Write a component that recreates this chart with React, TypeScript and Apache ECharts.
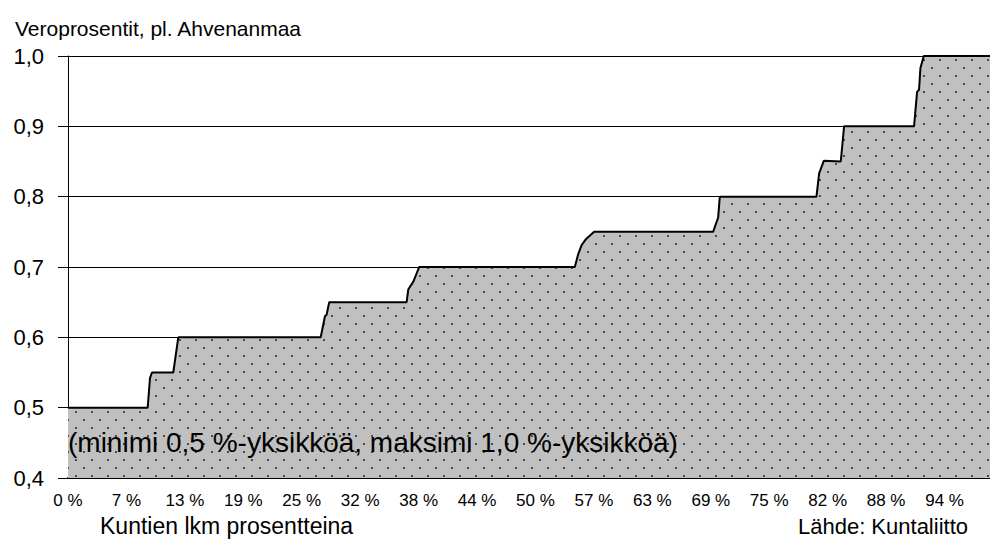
import React, { useEffect, useRef } from "react";
import * as echarts from "echarts";

// Share of municipalities (%, x) and municipal tax rate range width (%-units, y), step curve points
const SHARE_PCT = [0, 8.59, 8.84, 9.05, 11.35, 11.89, 27.24, 27.7, 27.88, 28.16, 36.51, 36.68, 37.22, 37.86, 54.64, 55.0, 55.37, 55.8, 56.72, 69.55, 69.92, 70.09, 70.27, 80.69, 80.98, 81.48, 83.31, 83.67, 91.21, 91.54, 91.75, 91.9, 92.26, 99.4];
const RATE = [0.5, 0.5, 0.542, 0.55, 0.55, 0.6, 0.6, 0.63, 0.632, 0.65, 0.65, 0.668, 0.679, 0.7, 0.7, 0.718, 0.731, 0.739, 0.75, 0.75, 0.764, 0.77, 0.8, 0.8, 0.833, 0.851, 0.85, 0.9, 0.9, 0.949, 0.952, 0.983, 1.0, 1.0];
const X_TICK_LABELS = ["0 %", "7 %", "13 %", "19 %", "25 %", "32 %", "38 %", "44 %", "50 %", "57 %", "63 %", "69 %", "75 %", "82 %", "88 %", "94 %"];
const X_STEP = 6.3;
const X_MAX = 99.4;
const Y_MIN = 0.4;
const Y_MAX = 1.0;

const TITLE = "Veroprosentit, pl. Ahvenanmaa";
const NOTE = "(minimi 0,5 %-yksikköä, maksimi 1,0 %-yksikköä)";
const X_NAME = "Kuntien lkm prosentteina";
const SOURCE = "Lähde: Kuntaliitto";

const FONT = "'Liberation Sans', Arial, sans-serif";

function makePattern(): HTMLCanvasElement {
  const c = document.createElement("canvas");
  c.width = 16;
  c.height = 16;
  const ctx = c.getContext("2d")!;
  ctx.fillStyle = "#c0c0c0";
  ctx.fillRect(0, 0, 16, 16);
  ctx.fillStyle = "#333333";
  ctx.beginPath();
  ctx.arc(4, 4, 1.1, 0, Math.PI * 2);
  ctx.arc(12, 12, 1.1, 0, Math.PI * 2);
  ctx.fill();
  return c;
}

export default function App() {
  const ref = useRef<HTMLDivElement>(null);
  useEffect(() => {
    if (!ref.current) return;
    const chart = echarts.init(ref.current, undefined, { renderer: "svg" });
    const pattern = makePattern();
    const data = SHARE_PCT.map((x, i) => [x, RATE[i]]);
    chart.setOption({
      animation: false,
      backgroundColor: "#ffffff",
      textStyle: { fontFamily: FONT },
      grid: { left: 68, right: 0, top: 56, bottom: 62, containLabel: false },
      xAxis: {
        type: "value",
        min: 0,
        max: X_MAX,
        interval: X_STEP,
        axisLine: { show: true, onZero: false, lineStyle: { color: "#000", width: 2 } },
        axisTick: { show: false },
        splitLine: { show: false },
        axisLabel: {
          color: "#000",
          fontSize: 17,
          fontFamily: FONT,
          margin: 14,
          showMaxLabel: false,
          formatter: (v: number) => {
            const i = Math.round(v / X_STEP);
            if (Math.abs(v - i * X_STEP) > 0.01) return "";
            return X_TICK_LABELS[i] ?? "";
          },
        },
      },
      yAxis: {
        type: "value",
        min: Y_MIN,
        max: Y_MAX,
        interval: 0.1,
        axisLine: { show: true, lineStyle: { color: "#000", width: 1 } },
        axisTick: { show: true, length: 10, lineStyle: { color: "#000" } },
        splitLine: { show: true, lineStyle: { color: "#000", width: 1 } },
        axisLabel: {
          color: "#000",
          fontSize: 22,
          fontFamily: FONT,
          margin: 24,
          formatter: (v: number) => v.toFixed(1).replace(".", ","),
        },
      },
      series: [
        {
          type: "line",
          data,
          symbol: "none",
          lineStyle: { color: "#000", width: 2 },
          areaStyle: {
            origin: "start",
            opacity: 1,
            color: { image: pattern, repeat: "repeat", imageWidth: 16, imageHeight: 16 } as any,
          },
          z: 3,
        },
      ],
      graphic: [
        {
          type: "text",
          x: 15,
          y: 28,
          style: { text: TITLE, fontSize: 21, fontFamily: FONT, fill: "#000", verticalAlign: "middle" },
        },
        {
          type: "text",
          x: 68,
          y: 442,
          z: 10,
          style: { text: NOTE, fontSize: 28, fontFamily: FONT, fill: "#000", verticalAlign: "middle" },
        },
        {
          type: "text",
          x: 100,
          y: 526,
          style: { text: X_NAME, fontSize: 23, fontFamily: FONT, fill: "#000", verticalAlign: "middle" },
        },
        {
          type: "text",
          x: 968,
          y: 526,
          style: { text: SOURCE, fontSize: 22, fontFamily: FONT, fill: "#000", align: "right", verticalAlign: "middle" },
        },
      ],
    });
    return () => chart.dispose();
  }, []);
  return <div ref={ref} style={{ position: "absolute", left: 0, top: 0, width: 990, height: 540 }} />;
}
